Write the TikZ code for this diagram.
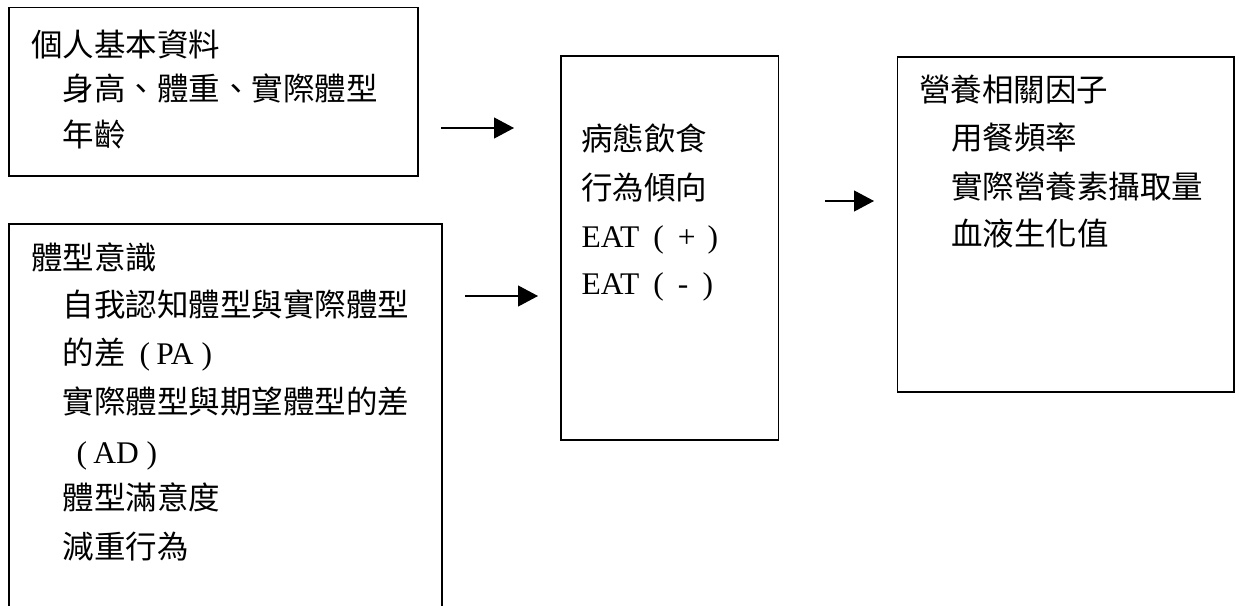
\documentclass[tikz,border=0pt]{standalone}
\usepackage{fontspec}
\setmainfont{Liberation Serif}
\newfontfamily\cjk{Noto Sans CJK TC}
\usetikzlibrary{arrows.meta}
\newcommand\mylp{\hspace{0.44em}(\hspace{0.2em}}
\newcommand\myrp{\hspace{0.25em})\hspace{0.4em}}
\tikzset{
  boxnode/.style={draw=black, line width=1.2pt, inner sep=0pt, rectangle},
  txt/.style={inner sep=0pt, anchor=base west, font=\fontsize{31.5}{38}\selectfont},
  conn/.style={line width=1.1pt, -{Triangle[length=20pt,width=21pt]}}
}
\begin{document}
\begin{tikzpicture}[x=1pt,y=-1pt]
\useasboundingbox (0,0) rectangle (1239,605);
\clip (0,0) rectangle (1239,605);
% boxes
\node[boxnode, minimum width=409pt, minimum height=168.5pt] (b1) at (213.5,91.75) {};
\node[boxnode, minimum width=433pt, minimum height=416pt] (b2) at (225.5,432) {};
\node[boxnode, minimum width=217.5pt, minimum height=384pt] (b3) at (669.75,248) {};
\node[boxnode, minimum width=336.5pt, minimum height=335pt] (b4) at (1065.75,224.5) {};
% box 1 text
\node[txt] (t11) at (31,56) {\cjk 個人基本資料};
\node[txt] (t12) at (62.5,100.5) {\cjk 身高、體重、實際體型};
\node[txt] (t13) at (62.5,146) {\cjk 年齡};
% box 2 text
\node[txt] (t21) at (31,269) {\cjk 體型意識};
\node[txt] (t22) at (62.5,316) {\cjk 自我認知體型與實際體型};
\node[txt] (t23) at (62.5,364.5) {\cjk 的差\rmfamily\mylp PA\myrp};
\node[txt] (t24) at (62.5,413) {\cjk 實際體型與期望體型的差};
\node[txt] (t25) at (62.5,463) {\mylp AD\myrp};
\node[txt] (t26) at (62.5,509) {\cjk 體型滿意度};
\node[txt] (t27) at (62.5,558) {\cjk 減重行為};
% box 3 text
\node[txt] (t31) at (581,150.5) {\cjk 病態飲食};
\node[txt] (t32) at (581,199.5) {\cjk 行為傾向};
\node[txt] (t33) at (581.5,247) {EAT\mylp\ +\hspace{0.13em}\myrp};
\node[txt] (t34) at (581.5,294) {EAT\mylp\ -\hspace{0.2em}\myrp};
% box 4 text
\node[txt] (t41) at (919,101) {\cjk 營養相關因子};
\node[txt] (t42) at (951,149) {\cjk 用餐頻率};
\node[txt] (t43) at (951,198) {\cjk 實際營養素攝取量};
\node[txt] (t44) at (951,245.5) {\cjk 血液生化值};
% connectors
\coordinate (a1s) at (441,128);
\coordinate (a1e) at (514,128);
\coordinate (a2s) at (465,296);
\coordinate (a2e) at (538,296);
\coordinate (a3s) at (825,201);
\coordinate (a3e) at (874,201);
\draw[conn] (a1s) -- (a1e);
\draw[conn] (a2s) -- (a2e);
\draw[conn] (a3s) -- (a3e);
\end{tikzpicture}
\end{document}
